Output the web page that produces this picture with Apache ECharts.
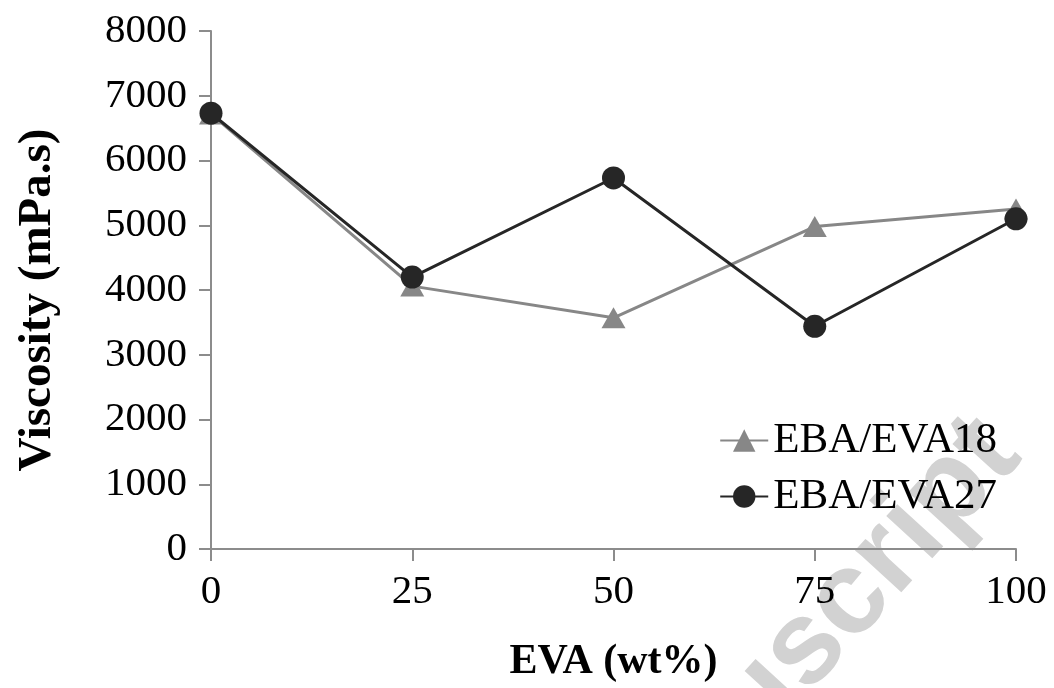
<!DOCTYPE html>
<html>
<head>
<meta charset="utf-8">
<script src="https://cdn.jsdelivr.net/npm/echarts@6/dist/echarts.min.js"></script>
<style>
html,body{margin:0;padding:0;background:#fff;}
#chart{width:1054px;height:688px;}
</style>
</head>
<body>
<div id="chart"></div>
<script>
const xValues = [0, 25, 50, 75, 100];
const eva18 = [6720, 4060, 3570, 4980, 5250];
const eva27 = [6730, 4200, 5730, 3440, 5100];
const seriesNames = ['EBA/EVA18', 'EBA/EVA27'];

const chart = echarts.init(document.getElementById('chart'));
const serif = 'Liberation Serif, Times New Roman, serif';
const axisGray = '#8c8c8c';

chart.setOption({
  backgroundColor: '#ffffff',
  animation: false,
  grid: {left: 211, right: 38, top: 31, bottom: 139},
  xAxis: {
    type: 'value', min: 0, max: 100, interval: 25,
    name: 'EVA (wt%)', nameLocation: 'middle', nameGap: 92,
    nameTextStyle: {fontFamily: serif, fontSize: 42, fontWeight: 'bold', color: '#000'},
    axisLine: {show: true, lineStyle: {color: axisGray, width: 2}},
    axisTick: {show: true, length: 12, lineStyle: {color: axisGray, width: 2}},
    axisLabel: {fontFamily: serif, fontSize: 41, color: '#000', margin: 23},
    splitLine: {show: false}
  },
  yAxis: {
    type: 'value', min: 0, max: 8000, interval: 1000,
    name: 'Viscosity (mPa.s)', nameLocation: 'middle', nameGap: 150,
    nameTextStyle: {fontFamily: serif, fontSize: 47, fontWeight: 'bold', color: '#000',
                    padding: [0, 20, 0, 0]},
    axisLine: {show: true, lineStyle: {color: axisGray, width: 2}},
    axisTick: {show: true, length: 12, lineStyle: {color: axisGray, width: 2}},
    axisLabel: {fontFamily: serif, fontSize: 41, color: '#000', margin: 24,
                formatter: v => String(v)},
    splitLine: {show: false}
  },
  legend: {
    orient: 'vertical', right: 52, top: 414,
    itemWidth: 48, itemHeight: 28, itemGap: 13,
    textStyle: {fontFamily: serif, fontSize: 43, color: '#000'},
    data: seriesNames
  },
  graphic: [{
    type: 'text', x: 1000, y: 436, rotation: 0.83, z: -10, silent: true,
    style: {text: 'Manuscript', fill: '#d2d2d2', font: 'bold 118px "Liberation Sans", Arial, sans-serif',
            textAlign: 'right', textVerticalAlign: 'middle'}
  }],
  series: [
    {
      name: seriesNames[0], type: 'line', z: 3,
      data: xValues.map((x, i) => [x, eva18[i]]),
      symbol: 'triangle', symbolSize: [24, 21],
      lineStyle: {color: '#878787', width: 3},
      itemStyle: {color: '#878787'}
    },
    {
      name: seriesNames[1], type: 'line', z: 4,
      data: xValues.map((x, i) => [x, eva27[i]]),
      symbol: 'circle', symbolSize: 23,
      lineStyle: {color: '#262626', width: 3},
      itemStyle: {color: '#262626'}
    }
  ]
});
</script>
</body>
</html>
